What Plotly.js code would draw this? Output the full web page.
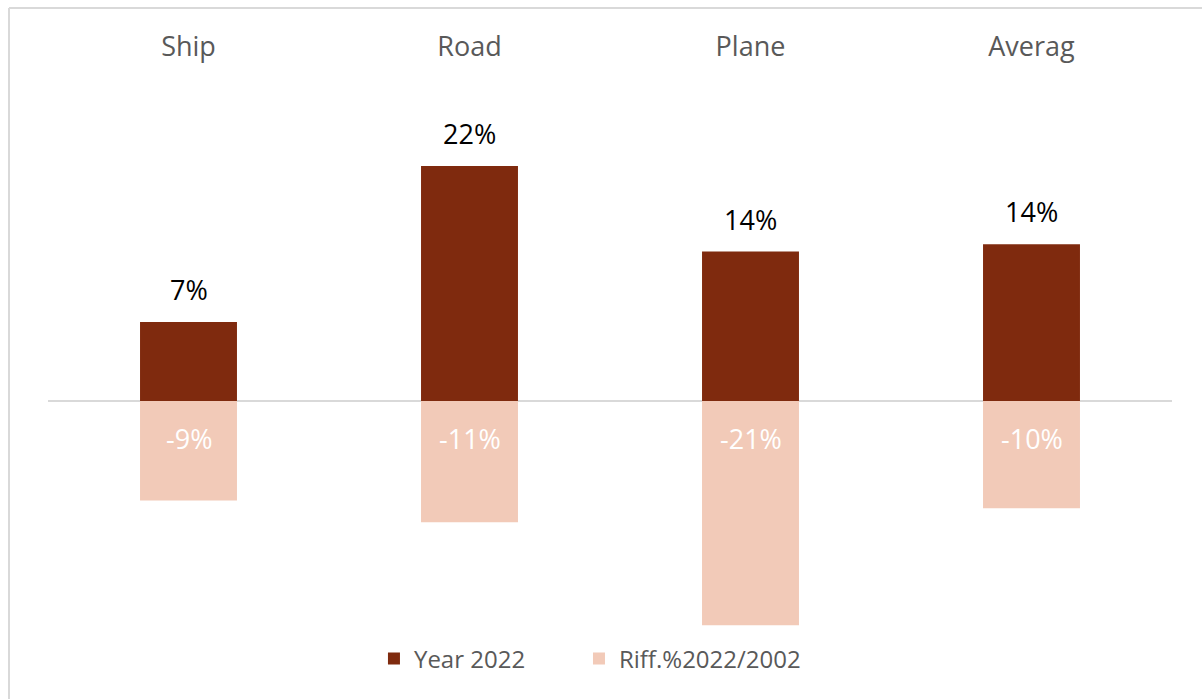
<!DOCTYPE html>
<html>
<head>
<meta charset="utf-8">
<script src="https://cdn.plot.ly/plotly-3.0.1.min.js"></script>
<style>html,body{margin:0;padding:0;background:#fff;}#chart{width:1202px;height:699px;}</style>
</head>
<body>
<div id="chart"></div>
<script>
const categories = ["Ship", "Road", "Plane", "Averag"];
const year2022 = [0.073, 0.217, 0.138, 0.1448];
const diff2022_2002 = [-0.092, -0.112, -0.207, -0.099];
const seriesNames = ["Year 2022", "Riff.%2022/2002"];

const darkColor = "#7F2A0E";
const lightColor = "#F2CAB8";
const fontFam = "Open Sans, Noto Sans, sans-serif";
const pct = v => Math.round(v * 100) + "%";

const traces = [
  {type: "bar", name: seriesNames[0], x: categories, y: year2022, legend: "legend",
   marker: {color: darkColor}, hoverinfo: "none"},
  {type: "bar", name: seriesNames[1], x: categories, y: diff2022_2002, legend: "legend2",
   marker: {color: lightColor}, hoverinfo: "none"}
];

const annotations = [];
categories.forEach((c, i) => {
  annotations.push({x: c, y: year2022[i], xref: "x", yref: "y", text: pct(year2022[i]),
    showarrow: false, yanchor: "bottom", yshift: 12,
    font: {family: fontFam, size: 27, color: "#000000"}});
  annotations.push({x: c, y: 0, xref: "x", yref: "y", text: pct(diff2022_2002[i]),
    showarrow: false, yanchor: "middle", yshift: -38,
    font: {family: fontFam, size: 27, color: "#FFFFFF"}});
});

const legendStyle = (x) => ({orientation: "h", x: x, xanchor: "left", y: -0.033, yanchor: "middle",
  font: {family: fontFam, size: 24, color: "#595959"}, itemwidth: 30, bgcolor: "rgba(0,0,0,0)"});

const layout = {
  width: 1202, height: 699,
  margin: {l: 48, r: 30, t: 70, b: 59, pad: 0},
  paper_bgcolor: "#ffffff", plot_bgcolor: "#ffffff",
  barmode: "overlay", bargap: 0.655,
  font: {family: fontFam, color: "#595959"},
  xaxis: {side: "top", showline: false, showgrid: false, zeroline: false, ticks: "",
          tickfont: {family: fontFam, size: 27, color: "#595959"}, ticklabelstandoff: 8},
  yaxis: {range: [-0.2207, 0.3056], showgrid: false, showticklabels: false, ticks: "",
          showline: false, zeroline: true, zerolinecolor: "#D9D9D9", zerolinewidth: 2},
  showlegend: true,
  legend: legendStyle(0.290),
  legend2: legendStyle(0.4724),
  annotations: annotations,
  shapes: [
    {type: "line", xref: "paper", yref: "paper", x0: -0.0347, x1: 1.1, y0: 1.1088, y1: 1.1088,
     line: {color: "#D9D9D9", width: 2}},
    {type: "line", xref: "paper", yref: "paper", x0: -0.0347, x1: -0.0347, y0: 1.1088, y1: -0.2,
     line: {color: "#D9D9D9", width: 2}}
  ]
};

Plotly.newPlot("chart", traces, layout, {displayModeBar: false, staticPlot: true});
</script>
</body>
</html>
